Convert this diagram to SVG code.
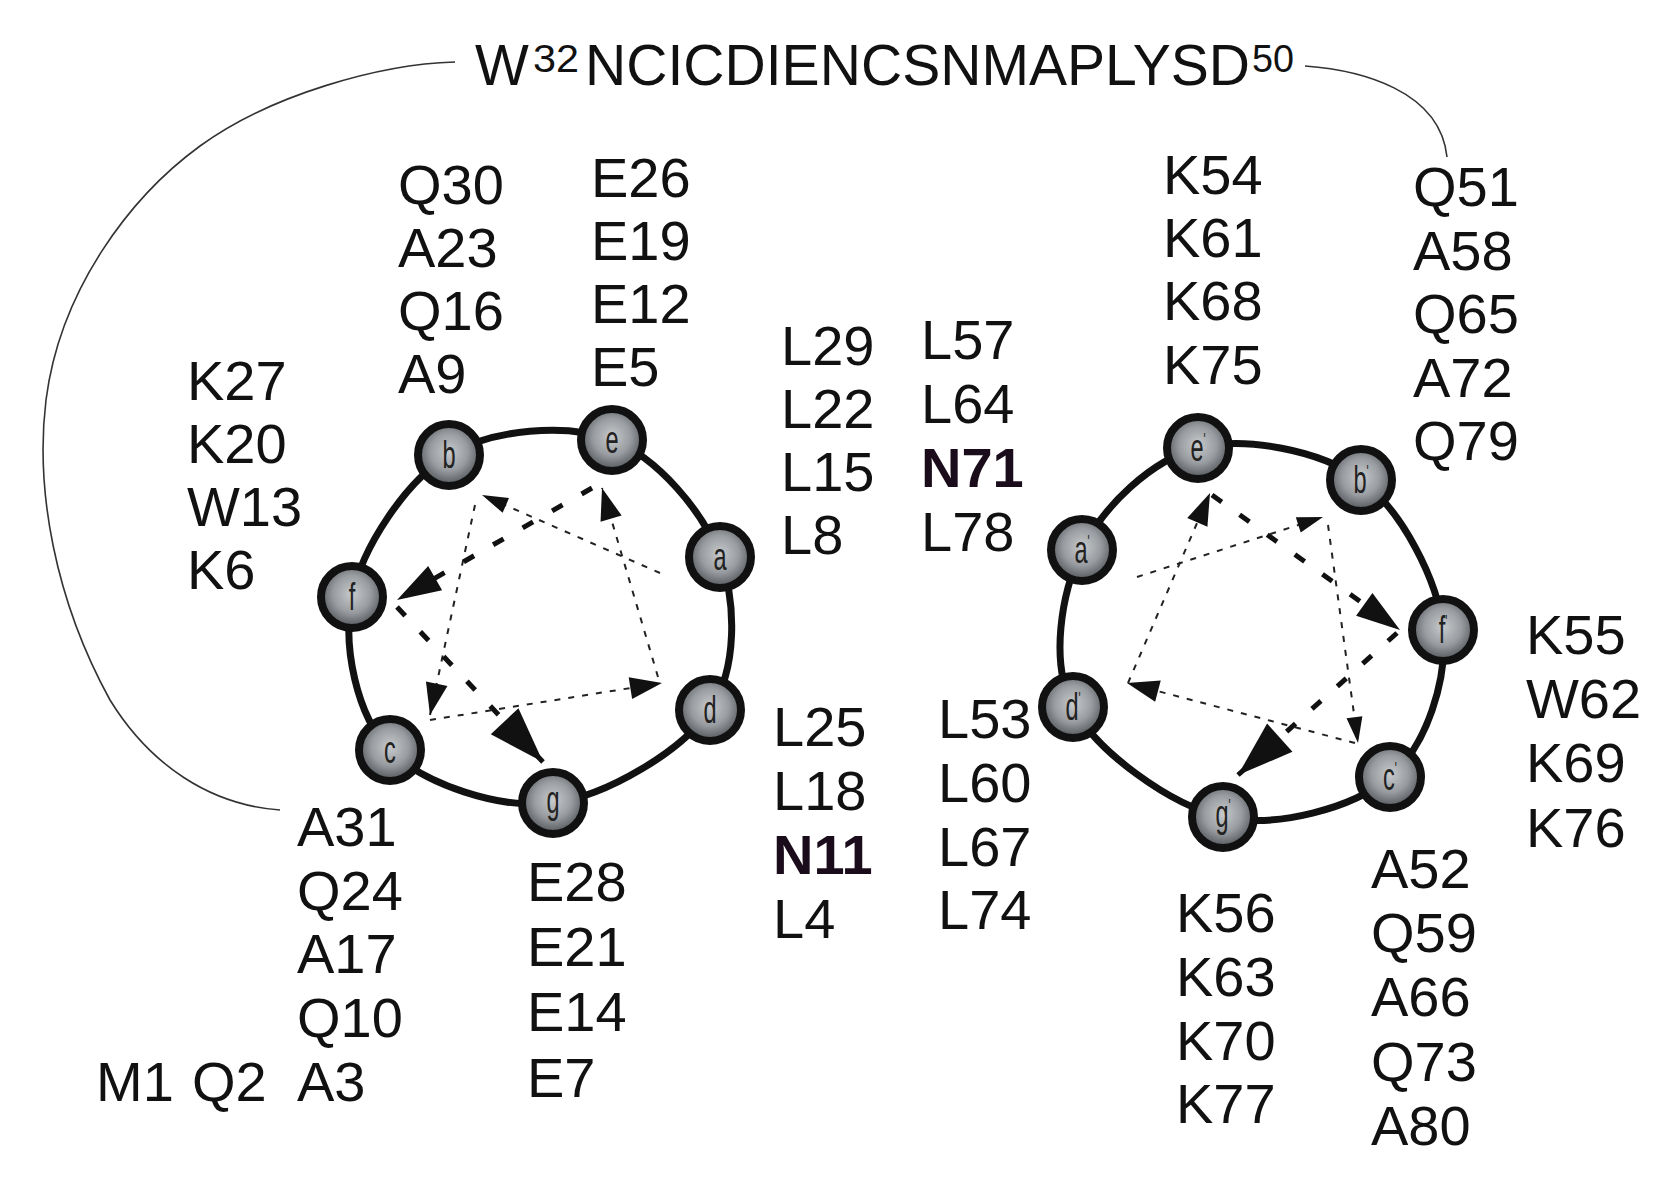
<svg xmlns="http://www.w3.org/2000/svg" width="1676" height="1179" viewBox="0 0 1676 1179">
<style>
.lbl{font-family:"Liberation Sans",Arial,sans-serif;font-size:56px;fill:#111}
.bold{font-weight:bold;fill:#1a0c1a}
.ring{fill:none;stroke:#111;stroke-width:7}
.node{fill:url(#ng);stroke:#111;stroke-width:8}
.nl{font-family:"Liberation Sans",Arial,sans-serif;font-size:38px;fill:#222;text-anchor:middle}
.pr{font-size:18px}
.thin{fill:none;stroke:#222;stroke-width:2;stroke-dasharray:6 8}
.thick{fill:none;stroke:#111;stroke-width:5;stroke-dasharray:12 22}
.link{fill:none;stroke:#333;stroke-width:1.6}
.top{font-family:"Liberation Sans",Arial,sans-serif;fill:#111}
</style>
<defs>
<radialGradient id="ng" cx="50%" cy="45%" r="55%">
<stop offset="0" stop-color="#c8cacc"/>
<stop offset="0.55" stop-color="#989ca0"/>
<stop offset="1" stop-color="#4e5256"/>
</radialGradient>
<marker id="arrS" markerUnits="userSpaceOnUse" markerWidth="26" markerHeight="16" refX="26" refY="8" orient="auto" overflow="visible"><path d="M0,0 L26,8 L0,16 z" fill="#111"/></marker>
<marker id="arrM" markerUnits="userSpaceOnUse" markerWidth="32" markerHeight="22" refX="32" refY="11" orient="auto" overflow="visible"><path d="M0,0 L32,11 L0,22 z" fill="#111"/></marker>
<marker id="arrL" markerUnits="userSpaceOnUse" markerWidth="44" markerHeight="28" refX="44" refY="14" orient="auto" overflow="visible"><path d="M0,0 L44,14 L0,28 z" fill="#111"/></marker>
<marker id="arrXL" markerUnits="userSpaceOnUse" markerWidth="56" markerHeight="38" refX="56" refY="19" orient="auto" overflow="visible"><path d="M0,0 L56,19 L0,38 z" fill="#111"/></marker>
</defs>
<rect width="1676" height="1179" fill="#fff"/>

<g id="connectors">
<path class="link" d="M455 62 C380 64 270 95 200 146 C130 197 60 290 46 400 C35 490 55 600 110 700 C150 765 210 805 280 810"/>
<path class="link" d="M1305 66 C1360 70 1440 90 1447 157"/>
<path class="ring" d="M449 455 C492.3 428.8 566.8 423 612 440 C657.2 457 703.7 512 720 557 C736.3 602 737.8 669 710 710 C682.2 751 606.3 796.3 553 803 C499.7 809.7 423.5 784.3 390 750 C356.5 715.7 342.2 646.2 352 597 C361.8 547.8 405.7 481.2 449 455 Z"/>
<path class="ring" d="M1198 448 C1244.5 436.3 1320.2 449.7 1361 480 C1401.8 510.3 1438.2 580.5 1443 630 C1447.8 679.5 1426.7 745.8 1390 777 C1353.3 808.2 1275.8 828.7 1223 817 C1170.2 805.3 1096.5 751.5 1073 707 C1049.5 662.5 1061.2 593.2 1082 550 C1102.8 506.8 1151.5 459.7 1198 448 Z"/>
<path class="thin" d="M660 573 L482 495" marker-end="url(#arrS)"/>
<path class="thin" d="M475 505 L430 715" marker-end="url(#arrM)"/>
<path class="thin" d="M430 720 L662 683" marker-end="url(#arrM)"/>
<path class="thin" d="M658 677 L602 488" marker-end="url(#arrM)"/>
<path class="thick" d="M592 488 L397 600" marker-end="url(#arrL)"/>
<path class="thick" d="M397 607 L543 762" marker-end="url(#arrXL)"/>
<path class="thin" d="M1137 577 L1323 517" marker-end="url(#arrS)"/>
<path class="thin" d="M1328 525 L1358 743" marker-end="url(#arrS)"/>
<path class="thin" d="M1355 743 L1127 683" marker-end="url(#arrM)"/>
<path class="thin" d="M1128 683 L1210 493" marker-end="url(#arrM)"/>
<path class="thick" d="M1212 495 L1400 630" marker-end="url(#arrL)"/>
<path class="thick" d="M1397 633 L1238 775" marker-end="url(#arrXL)"/>
</g>

<g id="node-b"><circle class="node" cx="449" cy="455" r="31"/><text class="nl" transform="translate(449 468) scale(0.62 1)">b</text></g>
<g id="node-e"><circle class="node" cx="612" cy="440" r="31"/><text class="nl" transform="translate(612 453) scale(0.62 1)">e</text></g>
<g id="node-a"><circle class="node" cx="720" cy="557" r="31"/><text class="nl" transform="translate(720 570) scale(0.62 1)">a</text></g>
<g id="node-d"><circle class="node" cx="710" cy="710" r="31"/><text class="nl" transform="translate(710 723) scale(0.62 1)">d</text></g>
<g id="node-g"><circle class="node" cx="553" cy="803" r="31"/><text class="nl" transform="translate(553 813) scale(0.62 1)">g</text></g>
<g id="node-c"><circle class="node" cx="390" cy="750" r="31"/><text class="nl" transform="translate(390 763) scale(0.62 1)">c</text></g>
<g id="node-f"><circle class="node" cx="352" cy="597" r="31"/><text class="nl" transform="translate(352 610) scale(0.62 1)">f</text></g>

<g id="node-e2"><circle class="node" cx="1198" cy="448" r="31"/><text class="nl" transform="translate(1198 461) scale(0.62 1)">e<tspan class="pr" dy="-15">'</tspan></text></g>
<g id="node-b2"><circle class="node" cx="1361" cy="480" r="31"/><text class="nl" transform="translate(1361 493) scale(0.62 1)">b<tspan class="pr" dy="-15">'</tspan></text></g>
<g id="node-f2"><circle class="node" cx="1443" cy="630" r="31"/><text class="nl" transform="translate(1443 643) scale(0.62 1)">f<tspan class="pr" dy="-15">'</tspan></text></g>
<g id="node-c2"><circle class="node" cx="1390" cy="777" r="31"/><text class="nl" transform="translate(1390 790) scale(0.62 1)">c<tspan class="pr" dy="-15">'</tspan></text></g>
<g id="node-g2"><circle class="node" cx="1223" cy="817" r="31"/><text class="nl" transform="translate(1223 827) scale(0.62 1)">g<tspan class="pr" dy="-15">'</tspan></text></g>
<g id="node-d2"><circle class="node" cx="1073" cy="707" r="31"/><text class="nl" transform="translate(1073 720) scale(0.62 1)">d<tspan class="pr" dy="-15">'</tspan></text></g>
<g id="node-a2"><circle class="node" cx="1082" cy="550" r="31"/><text class="nl" transform="translate(1082 563) scale(0.62 1)">a<tspan class="pr" dy="-15">'</tspan></text></g>

<g id="linker">
<text class="top" font-size="57"><tspan x="475" y="85">W</tspan><tspan x="533" y="72" font-size="38" textLength="46" lengthAdjust="spacingAndGlyphs">32</tspan><tspan x="585" y="85" textLength="665" lengthAdjust="spacingAndGlyphs">NCICDIENCSNMAPLYSD</tspan><tspan x="1252" y="72" font-size="38" textLength="42" lengthAdjust="spacingAndGlyphs">50</tspan></text>
</g>

<g id="labels" class="lbl">
<g id="col-K27"><text x="187" y="400" class="lbl">K27</text><text x="187" y="463" class="lbl">K20</text><text x="187" y="526" class="lbl">W13</text><text x="187" y="589" class="lbl">K6</text></g>
<g id="col-Q30"><text x="398" y="204" class="lbl">Q30</text><text x="398" y="267" class="lbl">A23</text><text x="398" y="330" class="lbl">Q16</text><text x="398" y="393" class="lbl">A9</text></g>
<g id="col-E26"><text x="591" y="197" class="lbl">E26</text><text x="591" y="260" class="lbl">E19</text><text x="591" y="323" class="lbl">E12</text><text x="591" y="386" class="lbl">E5</text></g>
<g id="col-L29"><text x="781" y="365" class="lbl">L29</text><text x="781" y="428" class="lbl">L22</text><text x="781" y="491" class="lbl">L15</text><text x="781" y="554" class="lbl">L8</text></g>
<g id="col-L57"><text x="921" y="359" class="lbl">L57</text><text x="921" y="423" class="lbl">L64</text><text x="921" y="487" class="lbl bold">N71</text><text x="921" y="551" class="lbl">L78</text></g>
<g id="col-K54"><text x="1163" y="194" class="lbl">K54</text><text x="1163" y="257" class="lbl">K61</text><text x="1163" y="320" class="lbl">K68</text><text x="1163" y="384" class="lbl">K75</text></g>
<g id="col-Q51"><text x="1413" y="206" class="lbl">Q51</text><text x="1413" y="270" class="lbl">A58</text><text x="1413" y="333" class="lbl">Q65</text><text x="1413" y="397" class="lbl">A72</text><text x="1413" y="460" class="lbl">Q79</text></g>
<g id="col-K55"><text x="1526" y="654" class="lbl">K55</text><text x="1526" y="718" class="lbl">W62</text><text x="1526" y="782" class="lbl">K69</text><text x="1526" y="847" class="lbl">K76</text></g>
<g id="col-L25"><text x="773" y="746" class="lbl">L25</text><text x="773" y="810" class="lbl">L18</text><text x="773" y="874" class="lbl bold">N11</text><text x="773" y="938" class="lbl">L4</text></g>
<g id="col-L53"><text x="938" y="738" class="lbl">L53</text><text x="938" y="802" class="lbl">L60</text><text x="938" y="866" class="lbl">L67</text><text x="938" y="929" class="lbl">L74</text></g>
<g id="col-A31"><text x="297" y="846" class="lbl">A31</text><text x="297" y="910" class="lbl">Q24</text><text x="297" y="973" class="lbl">A17</text><text x="297" y="1037" class="lbl">Q10</text><text x="297" y="1101" class="lbl">A3</text><text x="96" y="1101" class="lbl">M1</text><text x="192" y="1101" class="lbl">Q2</text></g>
<g id="col-E28"><text x="527" y="901" class="lbl">E28</text><text x="527" y="966" class="lbl">E21</text><text x="527" y="1031" class="lbl">E14</text><text x="527" y="1097" class="lbl">E7</text></g>
<g id="col-K56"><text x="1176" y="932" class="lbl">K56</text><text x="1176" y="996" class="lbl">K63</text><text x="1176" y="1060" class="lbl">K70</text><text x="1176" y="1123" class="lbl">K77</text></g>
<g id="col-A52"><text x="1371" y="888" class="lbl">A52</text><text x="1371" y="952" class="lbl">Q59</text><text x="1371" y="1016" class="lbl">A66</text><text x="1371" y="1081" class="lbl">Q73</text><text x="1371" y="1145" class="lbl">A80</text></g>
</g>
</svg>
